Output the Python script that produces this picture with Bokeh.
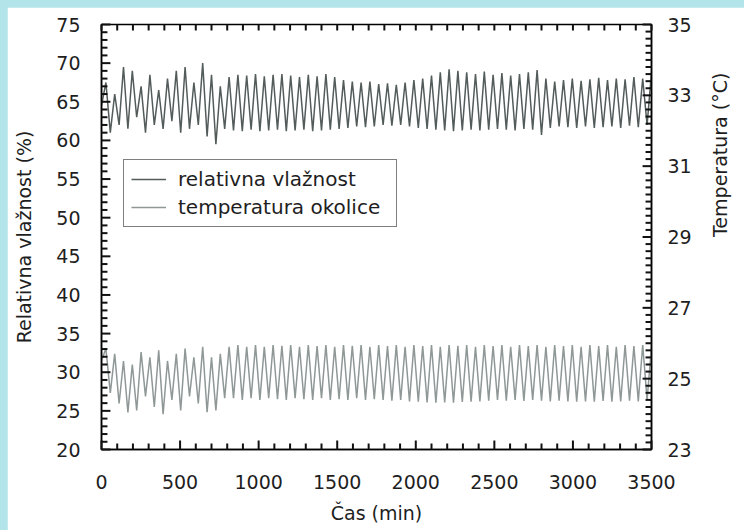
import math
from bokeh.plotting import figure
from bokeh.models import (LinearAxis, Range1d, Legend, LegendItem,
                          FixedTicker, ColumnDataSource)
from bokeh.layouts import column
from bokeh.embed import file_html
from bokeh.resources import INLINE

# ---- data (alternating troughs / peaks) ----
time_min = [0, 28, 56, 84, 112, 140, 168, 196, 224, 252, 280, 308, 336, 364, 392,
            420, 448, 476, 504, 532, 560, 588, 616, 644, 672, 700, 728, 756, 784,
            812, 840, 868, 896, 924, 952, 980, 1008, 1036, 1064, 1092, 1120, 1148,
            1176, 1204, 1232, 1260, 1288, 1316, 1344, 1372, 1400, 1428, 1456, 1484,
            1512, 1540, 1568, 1596, 1624, 1652, 1680, 1708, 1736, 1764, 1792, 1820,
            1848, 1876, 1904, 1932, 1960, 1988, 2016, 2044, 2072, 2100, 2128, 2156,
            2184, 2212, 2240, 2268, 2296, 2324, 2352, 2380, 2408, 2436, 2464, 2492,
            2520, 2548, 2576, 2604, 2632, 2660, 2688, 2716, 2744, 2772, 2800, 2828,
            2856, 2884, 2912, 2940, 2968, 2996, 3024, 3052, 3080, 3108, 3136, 3164,
            3192, 3220, 3248, 3276, 3304, 3332, 3360, 3388, 3416, 3444, 3472, 3500]

humidity = [64.5, 67.5, 61.0, 66.0, 62.0, 69.5, 61.5, 69.0, 63.0, 67.0, 61.0, 68.5,
            62.0, 66.5, 61.5, 68.0, 62.5, 69.0, 61.0, 69.5, 61.5, 67.5, 62.0, 70.0,
            60.5, 68.5, 59.5, 67.0, 61.5,
            68.2, 61.3, 68.5, 61.2, 68.4, 61.4, 68.6, 61.2, 68.3, 61.3, 68.5, 61.4,
            68.6, 61.2, 68.4, 61.3, 68.2, 61.4, 68.5, 61.2, 68.3, 61.3, 68.6, 61.4,
            68.2, 61.5, 67.8, 61.6, 67.6, 61.8, 67.5, 61.7, 67.6, 61.8, 67.3, 62.0,
            67.4, 61.9, 67.2, 62.0, 67.5, 61.8, 67.8, 61.6, 68.0, 61.5, 68.4, 61.4,
            68.8, 61.3, 69.2, 61.2, 69.0, 61.3, 68.8, 61.4, 68.6, 61.3, 68.9, 61.4,
            68.5, 61.5, 68.7, 61.4, 68.4, 61.3, 68.6, 61.5, 68.8, 61.4, 69.1, 60.7,
            68.0, 61.6, 67.6, 61.8, 67.8, 61.7, 68.0, 61.6, 67.7, 61.8, 67.9, 61.6,
            68.1, 61.7, 67.8, 61.8, 68.0, 61.6, 67.9, 61.9, 68.2, 61.7, 68.0, 62.0,
            68.8]

temperature = [25.5, 25.85, 24.6, 25.7, 24.3, 25.5, 24.05, 25.4, 24.1, 25.75, 24.5,
               25.6, 24.2, 25.8, 24.0, 25.5, 24.4, 25.7, 24.1, 25.85, 24.5, 25.6, 24.3,
               25.9, 24.05, 25.6, 24.1, 25.7, 24.45,
               25.9, 24.45, 25.95, 24.4, 25.9, 24.45, 25.95, 24.4, 25.9, 24.45, 25.95,
               24.42, 25.93, 24.4, 25.95, 24.45, 25.9, 24.42, 25.95, 24.4, 25.92, 24.45,
               25.95, 24.4, 25.9, 24.42, 25.95, 24.4, 25.93, 24.45, 25.95, 24.4, 25.9,
               24.42, 25.95, 24.4, 25.92, 24.38, 25.95, 24.4, 25.9, 24.36, 25.95, 24.35,
               25.92, 24.33, 25.95, 24.32, 25.9, 24.33, 25.95, 24.32, 25.93, 24.34, 25.95,
               24.35, 25.9, 24.36, 25.95, 24.38, 25.92, 24.4, 25.95, 24.38, 25.9, 24.4,
               25.95, 24.37, 25.92, 24.4, 25.95, 24.38, 25.9, 24.36, 25.95, 24.38, 25.92,
               24.36, 25.95, 24.35, 25.9, 24.36, 25.95, 24.35, 25.92, 24.37, 25.95, 24.35,
               25.9, 24.36, 25.95, 24.38, 25.92, 24.36, 25.95, 24.4, 25.9]

x_ticks = [0, 500, 1000, 1500, 2000, 2500, 3000, 3500]
y_ticks = [20, 25, 30, 35, 40, 45, 50, 55, 60, 65, 70, 75]
y2_ticks = [23, 25, 27, 29, 31, 33, 35]

x_title = "Čas (min)"
y_title = "Relativna vlažnost (%)"
y2_title = "Temperatura (°C)"
label_rh = "relativna vlažnost"
label_t = "temperatura okolice"

FONT = "DejaVu Sans"
TXT = "#1e1e1e"
CYAN = "#b2e4ea"
X0, X1, Y0, Y1, T0, T1 = 0, 3500, 20, 75, 23, 35
FRAME_W, FRAME_H = 554, 425     # frame size in px (for tick lengths)
MAJ, MIN = 9, 6                 # tick lengths in px


def minors(ticks, n):
    out = []
    for a, b in zip(ticks[:-1], ticks[1:]):
        step = (b - a) / n
        out += [a + step * k for k in range(1, n)]
    return out


src = ColumnDataSource(dict(t=time_min, rh=humidity, temp=temperature))

p = figure(width=737, height=523, margin=(7, 0, 0, 7),
           x_range=Range1d(X0, X1), y_range=Range1d(Y0, Y1),
           output_backend="svg", toolbar_location=None,
           min_border_left=94, min_border_right=89,
           min_border_top=17, min_border_bottom=81,
           border_fill_color="white")
p.extra_y_ranges = {"temp": Range1d(T0, T1)}
p.xgrid.visible = False
p.ygrid.visible = False
p.outline_line_color = "black"
p.outline_line_width = 1.5

r_rh = p.line("t", "rh", source=src, line_color="#535b5b", line_width=1.5)
r_t = p.line("t", "temp", source=src, line_color="#8f9797", line_width=1.5,
             y_range_name="temp")

# inward tick marks as segments (tick length given in px, converted to data)
dx = (X1 - X0) / FRAME_W
dy = (Y1 - Y0) / FRAME_H
xmin = minors(x_ticks, 5)
ymin = minors(y_ticks, 5)
y2min = minors(y2_ticks, 10)
TK = dict(line_color="#111111", line_width=2, level="overlay")
p.segment(x0=x_ticks, y0=[Y0] * len(x_ticks), x1=x_ticks,
          y1=[Y0 + MAJ * dy] * len(x_ticks), **TK)
p.segment(x0=xmin, y0=[Y0] * len(xmin), x1=xmin, y1=[Y0 + MIN * dy] * len(xmin), **TK)
p.segment(x0=x_ticks + xmin, y0=[Y1] * (len(x_ticks) + len(xmin)), x1=x_ticks + xmin,
          y1=[Y1 - MIN * dy] * (len(x_ticks) + len(xmin)), **TK)
p.segment(x0=[X0] * len(y_ticks), y0=y_ticks, x1=[X0 + MAJ * dx] * len(y_ticks),
          y1=y_ticks, **TK)
p.segment(x0=[X0] * len(ymin), y0=ymin, x1=[X0 + MIN * dx] * len(ymin), y1=ymin, **TK)
p.segment(x0=[X1] * len(y2_ticks), y0=y2_ticks, x1=[X1 - MAJ * dx] * len(y2_ticks),
          y1=y2_ticks, y_range_name="temp", **TK)
p.segment(x0=[X1] * len(y2min), y0=y2min, x1=[X1 - MIN * dx] * len(y2min),
          y1=y2min, y_range_name="temp", **TK)


def style(ax):
    ax.major_tick_in = 0
    ax.major_tick_out = 0
    ax.minor_tick_in = 0
    ax.minor_tick_out = 0
    ax.axis_line_color = "black"
    ax.axis_line_width = 1.5
    ax.major_label_text_font = FONT
    ax.major_label_text_font_size = "19px"
    ax.major_label_text_color = TXT
    ax.axis_label_text_font = FONT
    ax.axis_label_text_font_size = "19px"
    ax.axis_label_text_font_style = "normal"
    ax.axis_label_text_color = TXT


xa = p.xaxis[0]
xa.ticker = FixedTicker(ticks=x_ticks)
style(xa)
xa.major_label_standoff = 25
xa.axis_label = x_title
xa.axis_label_standoff = 10

ya = p.yaxis[0]
ya.ticker = FixedTicker(ticks=y_ticks)
style(ya)
ya.major_label_standoff = 21
ya.axis_label = y_title
ya.axis_label_standoff = 18

ra = LinearAxis(y_range_name="temp", ticker=FixedTicker(ticks=y2_ticks))
style(ra)
ra.major_label_standoff = 16
ra.axis_label = y2_title
ra.axis_label_orientation = math.pi / 2
ra.axis_label_standoff = 25
p.add_layout(ra, "right")

legend = Legend(items=[LegendItem(label=label_rh, renderers=[r_rh]),
                       LegendItem(label=label_t, renderers=[r_t])],
                location=(22, 222))
legend.label_text_font = FONT
legend.label_text_font_size = "20px"
legend.label_text_color = TXT
legend.glyph_width = 35
legend.glyph_height = 22
legend.label_height = 22
legend.label_width = 211
legend.label_standoff = 12
legend.padding = 7
legend.spacing = 4
legend.margin = 0
legend.border_line_color = "black"
legend.border_line_width = 1.5
legend.background_fill_color = "white"
legend.background_fill_alpha = 1
p.add_layout(legend)

page = column(p, width=744, height=530, styles={"background-color": CYAN})

open("out.html", "w").write(file_html(page, INLINE))
